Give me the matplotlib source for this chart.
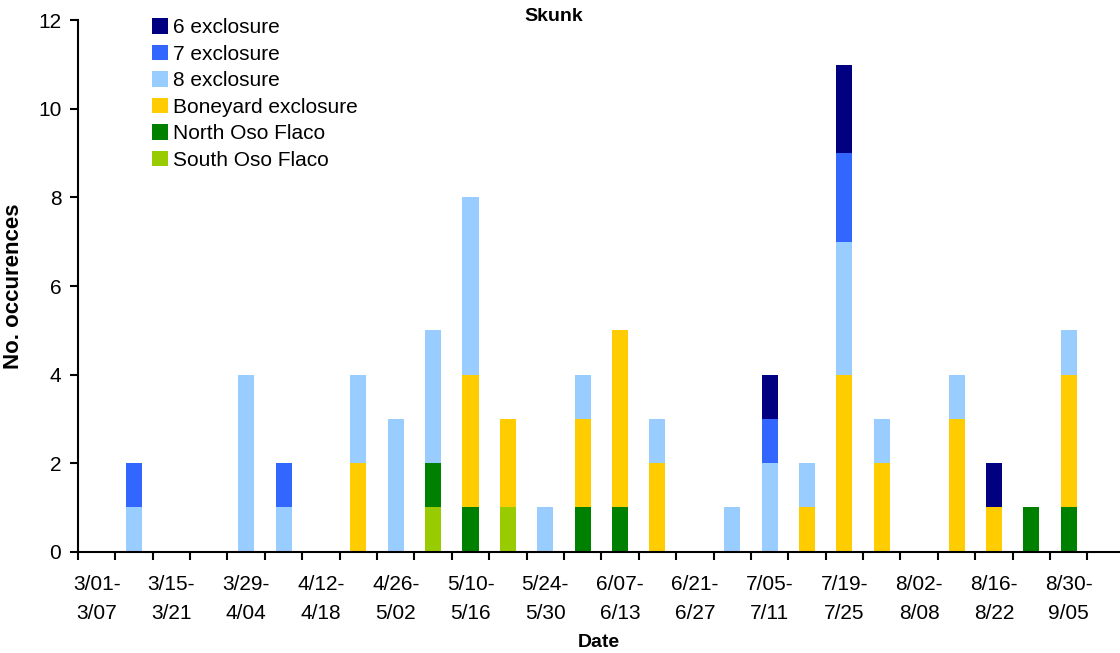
import matplotlib
matplotlib.use("Agg")
import matplotlib.pyplot as plt
import numpy as np

plt.rcParams['font.family'] = ['Liberation Sans', 'DejaVu Sans']

# weekly categories, 3/01-3/07 ... 8/30-9/05
week_labels = ["3/01-\n3/07", "", "3/15-\n3/21", "", "3/29-\n4/04", "",
               "4/12-\n4/18", "", "4/26-\n5/02", "", "5/10-\n5/16", "",
               "5/24-\n5/30", "", "6/07-\n6/13", "", "6/21-\n6/27", "",
               "7/05-\n7/11", "", "7/19-\n7/25", "", "8/02-\n8/08", "",
               "8/16-\n8/22", "", "8/30-\n9/05"]

south_oso = [0, 0, 0, 0, 0, 0, 0, 0, 0, 1, 0, 1, 0, 0, 0, 0, 0, 0, 0, 0, 0, 0, 0, 0, 0, 0, 0]
north_oso = [0, 0, 0, 0, 0, 0, 0, 0, 0, 1, 1, 0, 0, 1, 1, 0, 0, 0, 0, 0, 0, 0, 0, 0, 0, 1, 1]
boneyard  = [0, 0, 0, 0, 0, 0, 0, 2, 0, 0, 3, 2, 0, 2, 4, 2, 0, 0, 0, 1, 4, 2, 0, 3, 1, 0, 3]
excl8     = [0, 1, 0, 0, 4, 1, 0, 2, 3, 3, 4, 0, 1, 1, 0, 1, 0, 1, 2, 1, 3, 1, 0, 1, 0, 0, 1]
excl7     = [0, 1, 0, 0, 0, 1, 0, 0, 0, 0, 0, 0, 0, 0, 0, 0, 0, 0, 1, 0, 2, 0, 0, 0, 0, 0, 0]
excl6     = [0, 0, 0, 0, 0, 0, 0, 0, 0, 0, 0, 0, 0, 0, 0, 0, 0, 0, 1, 0, 2, 0, 0, 0, 1, 0, 0]

series = [
    ("6 exclosure", excl6, "#000080"),
    ("7 exclosure", excl7, "#3366FF"),
    ("8 exclosure", excl8, "#99CCFF"),
    ("Boneyard exclosure", boneyard, "#FFCC00"),
    ("North Oso Flaco", north_oso, "#008000"),
    ("South Oso Flaco", south_oso, "#99CC00"),
]

fig = plt.figure(figsize=(11.2, 6.53), dpi=100)
ax = fig.add_axes([0.0696, 0.155, 0.930, 0.814])

x = np.arange(len(week_labels))
bottom = np.zeros(len(x))
handles = {}
# stack from the bottom: South, North, Boneyard, 8, 7, 6
for name, vals, col in reversed(series):
    vals = np.array(vals, dtype=float)
    b = ax.bar(x, vals, width=0.43, bottom=bottom, color=col, linewidth=0)
    handles[name] = b
    bottom += vals

ax.set_xlim(-0.5, 27.36)
ax.set_ylim(0, 12)
ax.set_yticks(range(0, 13, 2))
ax.tick_params(axis='y', labelsize=15, length=6, width=1.5, direction='out', pad=6)

ax.set_xticks(x)
ax.set_xticklabels(week_labels, fontsize=15, linespacing=1.65)
ax.set_xticks(np.arange(-0.5, 27, 1), minor=True)
ax.tick_params(axis='x', which='major', length=0, pad=17)
ax.tick_params(axis='x', which='minor', length=6, width=1.5, direction='out')

for s in ['top', 'right']:
    ax.spines[s].set_visible(False)
for s in ['left', 'bottom']:
    ax.spines[s].set_linewidth(1.5)

ax.set_ylabel("No. occurences", fontsize=16, fontweight='bold', labelpad=10)
ax.set_xlabel("Date", fontsize=14, fontweight='bold', labelpad=8)
fig.text(554 / 1120, 1 - 8 / 653, "Skunk", ha='center', va='top',
         fontsize=14, fontweight='bold')

names = [s[0] for s in series]
leg = ax.legend([handles[n] for n in names], names, loc='upper left',
                bbox_to_anchor=(144 / 1120, 1 - 10 / 653), bbox_transform=fig.transFigure,
                frameon=False, fontsize=15, handlelength=0.77, handleheight=0.77,
                handletextpad=0.2, labelspacing=0.36, borderaxespad=0)

fig.savefig("out.png", dpi=100)
